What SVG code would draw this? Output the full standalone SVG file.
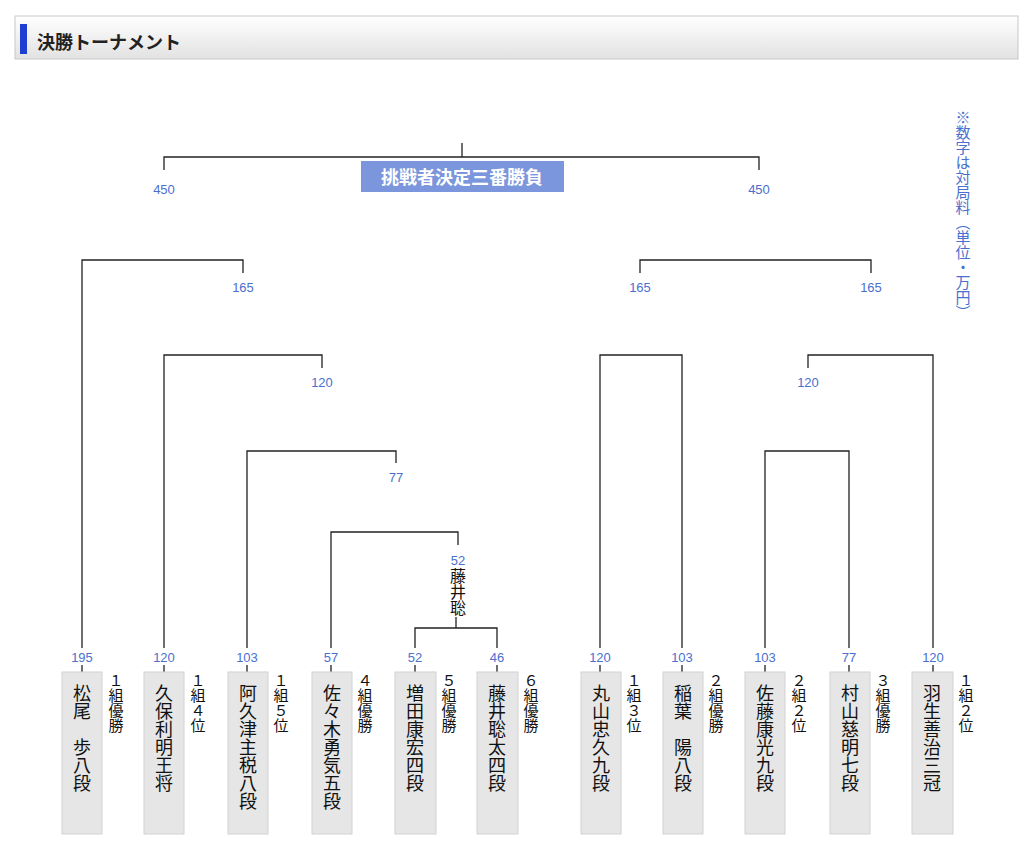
<svg xmlns="http://www.w3.org/2000/svg" width="1024" height="855" viewBox="0 0 1024 855">
<defs>
<linearGradient id="hg" x1="0" y1="0" x2="0" y2="1"><stop offset="0" stop-color="#ffffff"/><stop offset="1" stop-color="#e2e2e2"/></linearGradient>
<style>
.l{stroke:#222;stroke-width:1.3;fill:none}
.n{font-family:"Liberation Sans",Arial,sans-serif;font-size:13px;fill:#4a6fcf;text-anchor:middle}
.b{fill:#e6e6e6;stroke:#d2d2d2;stroke-width:1}
.nm{font-family:"Noto Sans CJK JP",sans-serif;font-size:18px;fill:#111;writing-mode:vertical-rl;text-orientation:upright}
.sd{font-family:"Noto Sans CJK JP",sans-serif;font-size:15px;fill:#111;writing-mode:vertical-rl;text-orientation:upright}
</style>
</defs>
<rect width="1024" height="855" fill="#fff"/>
<g id="header">
<rect x="15" y="16" width="1003" height="43" fill="url(#hg)" stroke="#c8c8c8"/>
<rect x="20" y="24" width="7" height="30" fill="#1e3fd0"/>
<text x="37" y="49" font-family="Noto Sans CJK JP,sans-serif" font-size="18" font-weight="bold" fill="#222">決勝トーナメント</text>
</g>
<g id="note"><text x="963" y="110" font-family="Noto Sans CJK JP,sans-serif" font-size="15" fill="#4a6fcf" style="writing-mode:vertical-rl;text-orientation:upright">※数字は対局料（単位・万円）</text></g>
<g id="connectors">
<path class="l" d="M462 143V157M164 170V157H759V170"/>
<path class="l" d="M82 648V260H243V273"/>
<path class="l" d="M164 648V355H322V368"/>
<path class="l" d="M247 648V451H396V463"/>
<path class="l" d="M331 648V532H458V545"/>
<path class="l" d="M456 617V628M415 648V628H497V648"/>
<path class="l" d="M640 273V260H871V273"/>
<path class="l" d="M600 648V355H682V648"/>
<path class="l" d="M808 368V355H933V648"/>
<path class="l" d="M765 648V451H849V648"/>
<path class="l" d="M82 665V672M164 665V672M247 665V672M331 665V672M415 665V672M497 665V672M600 665V672M682 665V672M765 665V672M849 665V672M933 665V672"/>
</g>
<g id="final">
<rect x="361" y="161" width="203" height="31" fill="#7b96dc"/>
<text x="462" y="184" font-family="Noto Sans CJK JP,sans-serif" font-size="18" font-weight="bold" fill="#fff" text-anchor="middle">挑戦者決定三番勝負</text>
</g>
<g id="labels">
<text class="n" x="164" y="194">450</text><text class="n" x="759" y="194">450</text>
<text class="n" x="243" y="292">165</text><text class="n" x="640" y="292">165</text><text class="n" x="871" y="292">165</text>
<text class="n" x="322" y="387">120</text><text class="n" x="808" y="387">120</text>
<text class="n" x="396" y="482">77</text>
<text class="n" x="458" y="565">52</text>
<text class="nm" x="458" y="568" style="font-size:16px">藤井聡</text>
</g>
<g id="p1"><text class="n" x="82" y="662">195</text><rect class="b" x="62" y="672" width="40" height="162"/><text class="nm" x="82" y="684">松尾　歩八段</text><text class="sd" x="116" y="673">１組優勝</text></g>
<g id="p2"><text class="n" x="164" y="662">120</text><rect class="b" x="144" y="672" width="40" height="162"/><text class="nm" x="164" y="684">久保利明王将</text><text class="sd" x="198" y="673">１組４位</text></g>
<g id="p3"><text class="n" x="247" y="662">103</text><rect class="b" x="228" y="672" width="40" height="162"/><text class="nm" x="248" y="684">阿久津主税八段</text><text class="sd" x="281" y="673">１組５位</text></g>
<g id="p4"><text class="n" x="331" y="662">57</text><rect class="b" x="312" y="672" width="40" height="162"/><text class="nm" x="332" y="684">佐々木勇気五段</text><text class="sd" x="365" y="673">４組優勝</text></g>
<g id="p5"><text class="n" x="415" y="662">52</text><rect class="b" x="395" y="672" width="41" height="162"/><text class="nm" x="415" y="684">増田康宏四段</text><text class="sd" x="449" y="673">５組優勝</text></g>
<g id="p6"><text class="n" x="497" y="662">46</text><rect class="b" x="477" y="672" width="41" height="162"/><text class="nm" x="497" y="684">藤井聡太四段</text><text class="sd" x="531" y="673">６組優勝</text></g>
<g id="p7"><text class="n" x="600" y="662">120</text><rect class="b" x="581" y="672" width="40" height="162"/><text class="nm" x="601" y="684">丸山忠久九段</text><text class="sd" x="634" y="673">１組３位</text></g>
<g id="p8"><text class="n" x="682" y="662">103</text><rect class="b" x="663" y="672" width="40" height="162"/><text class="nm" x="683" y="684">稲葉　陽八段</text><text class="sd" x="716" y="673">２組優勝</text></g>
<g id="p9"><text class="n" x="765" y="662">103</text><rect class="b" x="745" y="672" width="40" height="162"/><text class="nm" x="765" y="684">佐藤康光九段</text><text class="sd" x="799" y="673">２組２位</text></g>
<g id="p10"><text class="n" x="849" y="662">77</text><rect class="b" x="830" y="672" width="40" height="162"/><text class="nm" x="850" y="684">村山慈明七段</text><text class="sd" x="883" y="673">３組優勝</text></g>
<g id="p11"><text class="n" x="933" y="662">120</text><rect class="b" x="912" y="672" width="41" height="162"/><text class="nm" x="932" y="684">羽生善治三冠</text><text class="sd" x="966" y="673">１組２位</text></g>
</svg>
